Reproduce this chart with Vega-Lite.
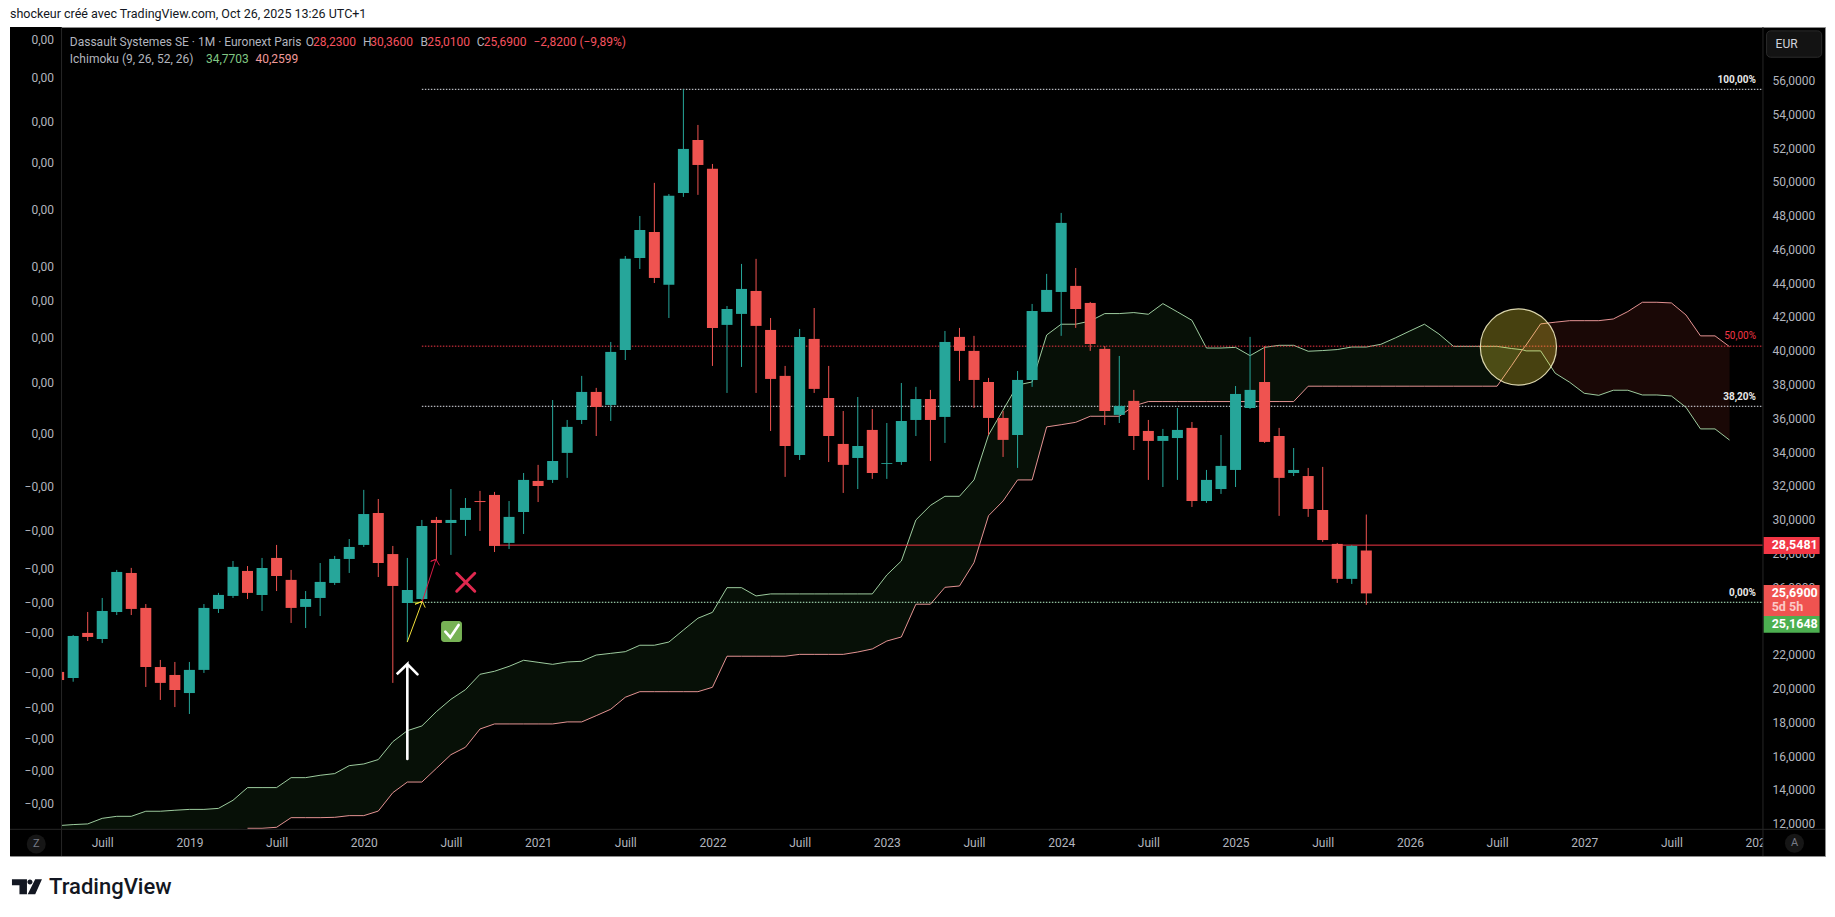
{
"$schema":"https://vega.github.io/schema/vega-lite/v6.json",
"description":"Dassault Systemes SE monthly candles with Ichimoku cloud; t is months since January 2019",
"background":"#ffffff",
"autosize":{"type":"none"},
"padding":{"left":10,"right":10,"top":27,"bottom":61},
"width":1815,
"height":829,
"title":{"text":"shockeur créé avec TradingView.com, Oct 26, 2025 13:26 UTC+1","anchor":"start","frame":"group","font":"Roboto","fontSize":12.5,"fontWeight":"normal","color":"#131722","offset":6},
"config":{"view":{"fill":"#000000","stroke":"#8c8c8c"},"font":"Roboto"},
"datasets":{
"candles":[
{"t":-9,"o":21.04,"h":21.04,"l":20.56,"c":20.56},
{"t":-8,"o":20.68,"h":23.23,"l":20.46,"c":23.17},
{"t":-7,"o":23.35,"h":24.59,"l":22.87,"c":23.11},
{"t":-6,"o":22.99,"h":25.42,"l":22.75,"c":24.65},
{"t":-5,"o":24.59,"h":27.08,"l":24.41,"c":26.96},
{"t":-4,"o":26.9,"h":27.2,"l":24.41,"c":24.77},
{"t":-3,"o":24.83,"h":25.06,"l":20.15,"c":21.33},
{"t":-2,"o":21.33,"h":21.75,"l":19.38,"c":20.39},
{"t":-1,"o":20.86,"h":21.63,"l":18.96,"c":19.97},
{"t":0,"o":19.79,"h":21.63,"l":18.55,"c":21.16},
{"t":1,"o":21.16,"h":25.06,"l":20.98,"c":24.83},
{"t":2,"o":24.77,"h":25.72,"l":24.53,"c":25.6},
{"t":3,"o":25.54,"h":27.61,"l":25.42,"c":27.26},
{"t":4,"o":27.02,"h":27.31,"l":25.36,"c":25.72},
{"t":5,"o":25.6,"h":27.79,"l":24.65,"c":27.2},
{"t":6,"o":27.79,"h":28.56,"l":25.83,"c":26.72},
{"t":7,"o":26.49,"h":27.08,"l":23.94,"c":24.83},
{"t":8,"o":24.89,"h":25.83,"l":23.64,"c":25.36},
{"t":9,"o":25.42,"h":27.49,"l":24.35,"c":26.37},
{"t":10,"o":26.31,"h":27.91,"l":26.19,"c":27.73},
{"t":11,"o":27.73,"h":28.91,"l":26.9,"c":28.44},
{"t":12,"o":28.56,"h":31.82,"l":28.44,"c":30.39},
{"t":13,"o":30.45,"h":31.28,"l":26.66,"c":27.49},
{"t":14,"o":28.02,"h":28.5,"l":20.39,"c":26.13},
{"t":15,"o":25.12,"h":27.79,"l":22.81,"c":25.89},
{"t":16,"o":25.36,"h":30.04,"l":25.3,"c":29.68},
{"t":17,"o":30.04,"h":30.22,"l":27.67,"c":29.86},
{"t":18,"o":29.86,"h":31.87,"l":27.97,"c":30.04},
{"t":19,"o":30.04,"h":31.34,"l":29.09,"c":30.75},
{"t":20,"o":31.16,"h":31.76,"l":29.39,"c":31.1},
{"t":21,"o":31.52,"h":31.7,"l":28.14,"c":28.5},
{"t":22,"o":28.68,"h":31.16,"l":28.32,"c":30.22},
{"t":23,"o":30.51,"h":32.82,"l":29.21,"c":32.41},
{"t":24,"o":32.35,"h":33.3,"l":31.1,"c":32.05},
{"t":25,"o":32.41,"h":37.14,"l":32.23,"c":33.53},
{"t":26,"o":34.01,"h":35.96,"l":32.53,"c":35.55},
{"t":27,"o":35.96,"h":38.57,"l":35.72,"c":37.62},
{"t":28,"o":37.62,"h":37.86,"l":35.01,"c":36.73},
{"t":29,"o":36.85,"h":40.58,"l":35.9,"c":39.99},
{"t":30,"o":40.11,"h":45.67,"l":39.51,"c":45.5},
{"t":31,"o":45.55,"h":48.04,"l":44.9,"c":47.21},
{"t":32,"o":47.09,"h":50,"l":44.07,"c":44.37},
{"t":33,"o":43.96,"h":49.34,"l":42,"c":49.23},
{"t":34,"o":49.4,"h":55.54,"l":49.17,"c":52.01},
{"t":35,"o":52.54,"h":53.43,"l":49.29,"c":51.06},
{"t":36,"o":50.83,"h":51.12,"l":39.16,"c":41.41},
{"t":37,"o":41.59,"h":42.71,"l":37.56,"c":42.53},
{"t":38,"o":42.24,"h":45.2,"l":39.1,"c":43.72},
{"t":39,"o":43.6,"h":45.5,"l":37.56,"c":41.53},
{"t":40,"o":41.29,"h":42,"l":35.31,"c":38.39},
{"t":41,"o":38.57,"h":39.16,"l":32.59,"c":34.42},
{"t":42,"o":33.89,"h":41.35,"l":33.59,"c":40.88},
{"t":43,"o":40.76,"h":42.59,"l":37.56,"c":37.8},
{"t":44,"o":37.26,"h":39.16,"l":33.47,"c":35.01},
{"t":45,"o":34.54,"h":36.49,"l":31.64,"c":33.3},
{"t":46,"o":33.71,"h":37.32,"l":31.87,"c":34.42},
{"t":47,"o":35.37,"h":36.61,"l":32.47,"c":32.82},
{"t":48,"o":33.36,"h":35.78,"l":32.47,"c":33.41},
{"t":49,"o":33.47,"h":38.15,"l":33.3,"c":35.9},
{"t":50,"o":35.96,"h":37.92,"l":35.01,"c":37.2},
{"t":51,"o":37.2,"h":37.74,"l":33.53,"c":35.96},
{"t":52,"o":36.14,"h":41.23,"l":34.6,"c":40.58},
{"t":53,"o":40.88,"h":41.41,"l":38.27,"c":40.05},
{"t":54,"o":40.05,"h":40.94,"l":36.67,"c":38.33},
{"t":55,"o":38.21,"h":38.45,"l":35.07,"c":36.08},
{"t":56,"o":36.08,"h":36.49,"l":33.77,"c":34.78},
{"t":57,"o":35.07,"h":38.86,"l":33.12,"c":38.33},
{"t":58,"o":38.33,"h":42.83,"l":37.92,"c":42.42},
{"t":59,"o":42.36,"h":44.61,"l":42.36,"c":43.66},
{"t":60,"o":43.54,"h":48.22,"l":40.94,"c":47.63},
{"t":61,"o":43.9,"h":44.96,"l":41.41,"c":42.53},
{"t":62,"o":42.89,"h":42.95,"l":40.05,"c":40.46},
{"t":63,"o":40.17,"h":40.34,"l":35.66,"c":36.49},
{"t":64,"o":36.26,"h":39.75,"l":35.78,"c":36.79},
{"t":65,"o":37.09,"h":37.74,"l":34.18,"c":35.01},
{"t":66,"o":35.31,"h":35.96,"l":32.41,"c":34.72},
{"t":67,"o":34.72,"h":35.43,"l":31.99,"c":35.01},
{"t":68,"o":34.89,"h":36.67,"l":32.41,"c":35.37},
{"t":69,"o":35.49,"h":35.84,"l":30.81,"c":31.16},
{"t":70,"o":31.16,"h":33,"l":31.05,"c":32.41},
{"t":71,"o":31.87,"h":35.07,"l":31.58,"c":33.24},
{"t":72,"o":33,"h":37.97,"l":31.99,"c":37.5},
{"t":73,"o":36.67,"h":40.88,"l":36.61,"c":37.74},
{"t":74,"o":38.21,"h":40.34,"l":34.6,"c":34.66},
{"t":75,"o":35.01,"h":35.49,"l":30.28,"c":32.53},
{"t":76,"o":32.82,"h":34.3,"l":32.64,"c":33},
{"t":77,"o":32.64,"h":33.12,"l":30.22,"c":30.69},
{"t":78,"o":30.63,"h":33.18,"l":28.74,"c":28.85},
{"t":79,"o":28.62,"h":28.68,"l":26.31,"c":26.55},
{"t":80,"o":26.55,"h":28.54,"l":26.25,"c":28.5},
{"t":81,"o":28.23,"h":30.36,"l":25.01,"c":25.69}
],
"cloud":[
{"t":-9,"a":11.94,"b":11.72},{"t":-8,"a":12,"b":11.72},{"t":-7,"a":12.04,"b":11.72},{"t":-6,"a":12.37,"b":11.72},{"t":-5,"a":12.49,"b":11.72},{"t":-4,"a":12.49,"b":11.72},{"t":-3,"a":12.79,"b":11.72},{"t":-2,"a":12.79,"b":11.72},{"t":-1,"a":12.85,"b":11.72},{"t":0,"a":12.9,"b":11.72},{"t":1,"a":12.9,"b":11.72},{"t":2,"a":12.96,"b":11.72},{"t":3,"a":13.44,"b":11.72},
{"t":4,"a":14.19,"b":11.78},{"t":5,"a":14.19,"b":11.78},{"t":6,"a":14.19,"b":11.84},{"t":7,"a":14.78,"b":12.41},{"t":8,"a":14.78,"b":12.41},{"t":9,"a":14.92,"b":12.41},{"t":10,"a":15.02,"b":12.43},{"t":11,"a":15.49,"b":12.53},{"t":12,"a":15.59,"b":12.53},{"t":13,"a":15.85,"b":12.8},{"t":14,"a":16.91,"b":13.89},{"t":15,"a":17.56,"b":14.52},{"t":16,"a":17.84,"b":14.52},{"t":17,"a":18.69,"b":15.33},{"t":18,"a":19.42,"b":16.14},{"t":19,"a":19.99,"b":16.58},{"t":20,"a":20.9,"b":17.66},{"t":21,"a":21.08,"b":17.96},{"t":22,"a":21.37,"b":17.96},{"t":23,"a":21.73,"b":17.96},{"t":24,"a":21.61,"b":17.96},{"t":25,"a":21.49,"b":17.96},{"t":26,"a":21.63,"b":18.08},{"t":27,"a":21.67,"b":18.08},{"t":28,"a":22.04,"b":18.45},{"t":29,"a":22.14,"b":18.83},{"t":30,"a":22.24,"b":19.54},
{"t":31,"a":22.62,"b":19.87},{"t":32,"a":22.62,"b":19.87},{"t":33,"a":22.81,"b":19.87},{"t":34,"a":23.52,"b":19.87},{"t":35,"a":24.22,"b":19.87},{"t":36,"a":24.57,"b":20.13},{"t":37,"a":26.03,"b":21.97},{"t":38,"a":26.03,"b":21.97},{"t":39,"a":25.54,"b":21.97},{"t":40,"a":25.66,"b":21.97},{"t":41,"a":25.66,"b":21.97},{"t":42,"a":25.66,"b":22.08},{"t":43,"a":25.66,"b":22.08},{"t":44,"a":25.66,"b":22.08},{"t":45,"a":25.66,"b":22.08},{"t":46,"a":25.66,"b":22.22},{"t":47,"a":25.66,"b":22.4},{"t":48,"a":26.78,"b":22.87},{"t":49,"a":27.61,"b":23.11},{"t":50,"a":30.04,"b":25.05},{"t":51,"a":30.9,"b":25.05},{"t":52,"a":31.44,"b":26.05},{"t":53,"a":31.44,"b":26.13},{"t":54,"a":32.41,"b":27.51},{"t":55,"a":35.07,"b":30.29},{"t":56,"a":36.55,"b":31.16},{"t":57,"a":38.03,"b":32.41},{"t":58,"a":38.21,"b":32.41},{"t":59,"a":40.99,"b":35.55},{"t":60,"a":41.63,"b":35.68},{"t":61,"a":41.63,"b":35.82},{"t":62,"a":41.82,"b":36.18},{"t":63,"a":42.26,"b":36.18},{"t":64,"a":42.26,"b":36.18},{"t":65,"a":42.32,"b":36.79},{"t":66,"a":42.22,"b":37.05},{"t":67,"a":42.85,"b":37.05},{"t":68,"a":42.36,"b":37.05},{"t":69,"a":41.86,"b":37.05},{"t":70,"a":40.22,"b":37.05},{"t":71,"a":40.22,"b":37.05},{"t":72,"a":40.26,"b":37.05},{"t":73,"a":39.77,"b":37.05},{"t":74,"a":40.26,"b":37.05},{"t":75,"a":40.38,"b":37.05},{"t":76,"a":40.38,"b":37.05},{"t":77,"a":40.03,"b":37.96},{"t":78,"a":40.07,"b":37.96},{"t":79,"a":40.13,"b":37.96},{"t":80,"a":40.28,"b":37.96},{"t":81,"a":40.28,"b":37.96},{"t":82,"a":40.44,"b":37.96},{"t":83,"a":40.82,"b":37.96},{"t":84,"a":41.23,"b":37.96},{"t":85,"a":41.63,"b":37.96},{"t":86,"a":41.05,"b":37.96},{"t":87,"a":40.32,"b":37.96},{"t":88,"a":40.32,"b":37.96},{"t":89,"a":40.32,"b":37.96},{"t":90,"a":40.32,"b":37.96},{"t":91,"a":40.19,"b":39.18},{"t":91.74,"a":40.12,"b":40.12},{"t":92,"a":40.05,"b":40.4},{"t":93,"a":40.05,"b":41.65},{"t":94,"a":38.73,"b":41.75},{"t":95,"a":38.19,"b":41.84},{"t":96,"a":37.54,"b":41.84},{"t":97,"a":37.42,"b":41.84},{"t":98,"a":37.72,"b":41.94},{"t":99,"a":37.72,"b":42.38},{"t":100,"a":37.44,"b":42.93},{"t":101,"a":37.44,"b":42.93},{"t":102,"a":37.38,"b":42.89},{"t":103,"a":36.71,"b":42.18},{"t":104,"a":35.43,"b":40.94},{"t":105,"a":35.43,"b":40.94},{"t":106,"a":34.77,"b":40.3}
],
"levels":[
{"level":"100,00%","p":55.54,"t":16,"t2":108.3,"lt":107.82,"lp":56.11},
{"level":"50,00%","p":40.33,"t":16,"t2":108.3,"lt":107.82,"lp":40.95},
{"level":"38,20%","p":36.77,"t":16,"t2":108.3,"lt":107.82,"lp":37.34},
{"level":"0,00%","p":25.1648,"t":16,"t2":108.3,"lt":107.82,"lp":25.73}
],
"strokes":[
{"part":"white","seq":0,"t":15,"p":15.88},{"part":"white","seq":1,"t":15,"p":21.51},{"part":"white","seq":2,"t":14.27,"p":20.9},{"part":"white","seq":3,"t":15,"p":21.51},{"part":"white","seq":4,"t":15.7,"p":20.9},
{"part":"yellow","seq":0,"t":15,"p":22.83},{"part":"yellow","seq":1,"t":16.03,"p":25.22},{"part":"yellow","seq":2,"t":15.53,"p":25.05},{"part":"yellow","seq":3,"t":16.03,"p":25.22},{"part":"yellow","seq":4,"t":16.22,"p":24.87},
{"part":"red","seq":0,"t":16.03,"p":25.22},{"part":"red","seq":1,"t":16.97,"p":27.71},{"part":"red","seq":2,"t":16.61,"p":27.59},{"part":"red","seq":3,"t":16.97,"p":27.71},{"part":"red","seq":4,"t":17.2,"p":27.37},
{"part":"x1","seq":0,"t":18.4,"p":26.88},{"part":"x1","seq":1,"t":19.64,"p":25.82},
{"part":"x2","seq":0,"t":18.4,"p":25.82},{"part":"x2","seq":1,"t":19.64,"p":26.88},
{"part":"check","seq":0,"t":17.61,"p":23.42},{"part":"check","seq":1,"t":17.96,"p":23.09},{"part":"check","seq":2,"t":18.53,"p":23.82}
],
"header":[
{"t":-8.23,"p":58.36,"text":"Dassault Systemes SE · 1M · Euronext Paris","tone":"gray"},
{"t":8,"p":58.36,"text":"O","tone":"gray"},{"t":8.51,"p":58.36,"text":"28,2300","tone":"red"},
{"t":11.94,"p":58.36,"text":"H","tone":"gray"},{"t":12.44,"p":58.36,"text":"30,3600","tone":"red"},
{"t":15.9,"p":58.36,"text":"B","tone":"gray"},{"t":16.37,"p":58.36,"text":"25,0100","tone":"red"},
{"t":19.77,"p":58.36,"text":"C","tone":"gray"},{"t":20.26,"p":58.36,"text":"25,6900","tone":"red"},
{"t":23.68,"p":58.36,"text":"−2,8200 (−9,89%)","tone":"red"},
{"t":-8.23,"p":57.34,"text":"Ichimoku (9, 26, 52, 26)","tone":"gray"},
{"t":1.14,"p":57.34,"text":"34,7703","tone":"green"},
{"t":4.55,"p":57.34,"text":"40,2599","tone":"pink"},
{"t":109.17,"p":58.21,"text":"EUR","tone":"light"}
],
"tags":[
{"t":108.35,"t2":112.2,"p":28.03,"p2":29.03,"tag":"line"},
{"t":108.35,"t2":112.2,"p":24.35,"p2":26.19,"tag":"close"},
{"t":108.35,"t2":112.2,"p":23.36,"p2":24.35,"tag":"low"}
],
"tagText":[
{"t":108.9,"p":28.58,"text":"28,5481","tone":"white"},
{"t":108.9,"p":25.73,"text":"25,6900","tone":"white"},
{"t":108.9,"p":24.9,"text":"5d 5h","tone":"soft"},
{"t":108.9,"p":23.88,"text":"25,1648","tone":"white"}
],
"panels":[
{"t":-12.347,"t2":-8.8,"p":10.14,"p2":59.23},
{"t":108.3,"t2":112.57,"p":10.14,"p2":11.72}
]
},
"encoding":{
"x":{"field":"t","type":"quantitative","title":null,"scale":{"domain":[-12.347,112.57],"nice":false,"zero":false,"padding":0},
"axis":{"orient":"bottom","values":[-6,0,6,12,18,24,30,36,42,48,54,60,66,72,78,84,90,96,102,108],"labelExpr":"datum.value%12===0?''+(2019+datum.value/12):'Juill'","domain":false,"ticks":false,"grid":false,"labelPadding":-13.3,"labelBaseline":"middle","labelFontSize":12,"labelColor":"#b2b5be","labelOverlap":false,"labelFlush":false,"labelBound":false,"title":null}}
},
"layer":[
{"data":{"name":"cloud"},"transform":[{"filter":"datum.t<=91.74"}],"mark":{"type":"area","color":"#071007"},
"encoding":{"y":{"field":"a","type":"quantitative","scale":{"domain":[10.14,59.23],"nice":false,"zero":false},
"axis":{"orient":"left","title":null,"zindex":1,"values":[58.48,56.23,53.63,51.2,48.41,45.04,43.03,40.82,38.18,35.13,32.01,29.4,27.15,25.14,23.36,20.98,18.92,17.09,15.19,13.24],"labelExpr":"datum.value>33?'0,00':'−0,00'","domain":false,"ticks":false,"grid":false,"labelPadding":-43.5,"labelAlign":"right","labelBaseline":"middle","labelFontSize":12,"labelColor":"#b2b5be","labelOverlap":false,"labelFlush":false,"labelBound":false}},"y2":{"field":"b"}}},
{"data":{"name":"cloud"},"transform":[{"filter":"datum.t>=91.74"}],"mark":{"type":"area","color":"#1a0806"},
"encoding":{"y":{"field":"a","type":"quantitative",
"axis":{"orient":"right","title":null,"values":[12,14,16,18,20,22,24,26,28,30,32,34,36,38,40,42,44,46,48,50,52,54,56],"labelExpr":"replace(format(datum.value,'.4f'),'.',',')","domain":false,"ticks":false,"grid":false,"labelPadding":-53,"labelAlign":"left","labelBaseline":"middle","labelOffset":-1,"labelFontSize":12,"labelColor":"#b2b5be","labelOverlap":false,"labelFlush":false,"labelBound":false}},"y2":{"field":"b"}}},
{"data":{"name":"cloud"},"mark":{"type":"line","color":"#a5d6a7","strokeWidth":1,"opacity":0.95},"encoding":{"y":{"field":"a","type":"quantitative","axis":null}}},
{"data":{"name":"cloud"},"transform":[{"filter":"datum.t>=4"}],"mark":{"type":"line","color":"#ef9a9a","strokeWidth":1,"opacity":0.95},"encoding":{"y":{"field":"b","type":"quantitative","axis":null}}},
{"data":{"name":"levels"},"mark":{"type":"rule","strokeWidth":1,"strokeDash":[1.5,1.5]},
"encoding":{"x2":{"field":"t2"},"y":{"field":"p","type":"quantitative","axis":null},
"color":{"condition":[{"test":"datum.level==='50,00%'","value":"#f23645"},{"test":"datum.level==='0,00%'","value":"#b9f6ca"}],"value":"#e0e3eb"}}},
{"data":{"name":"levels"},"transform":[{"filter":"datum.level!=='50,00%'"}],"mark":{"type":"text","align":"right","baseline":"middle","fontSize":10,"fontWeight":"bold","color":"#e8e8e8"},
"encoding":{"x":{"field":"lt","type":"quantitative"},"y":{"field":"lp","type":"quantitative","axis":null},"text":{"field":"level"}}},
{"data":{"name":"levels"},"transform":[{"filter":"datum.level==='50,00%'"}],"mark":{"type":"text","align":"right","baseline":"middle","fontSize":10,"color":"#f23645"},
"encoding":{"x":{"field":"lt","type":"quantitative"},"y":{"field":"lp","type":"quantitative","axis":null},"text":{"field":"level"}}},
{"data":{"values":[{"t":21,"t2":108.3,"p":28.5481,"line":"resistance"},{"t":15,"t2":16,"p":25.1648,"line":"start"}]},"mark":{"type":"rule","strokeWidth":1},
"encoding":{"x2":{"field":"t2"},"y":{"field":"p","type":"quantitative","axis":null},
"color":{"condition":[{"test":"datum.line==='start'","value":"#8bc34a"}],"value":"#f23645"}}},
{"data":{"name":"candles"},"mark":{"type":"rule","strokeWidth":1},
"encoding":{"y":{"field":"l","type":"quantitative","axis":null},"y2":{"field":"h"},
"color":{"condition":{"test":"datum.c>=datum.o","value":"#26a69a"},"value":"#ef5350"}}},
{"data":{"name":"candles"},"mark":{"type":"bar","size":11,"orient":"vertical"},
"encoding":{"y":{"field":"o","type":"quantitative","axis":null},"y2":{"field":"c"},
"color":{"condition":{"test":"datum.c>=datum.o","value":"#26a69a"},"value":"#ef5350"}}},
{"data":{"values":[{"t":17.32,"t2":18.76,"p":22.81,"p2":24.06}]},"mark":{"type":"rect","color":"#77b255","cornerRadius":3},
"encoding":{"x2":{"field":"t2"},"y":{"field":"p","type":"quantitative","axis":null},"y2":{"field":"p2"}}},
{"data":{"name":"strokes"},"mark":{"type":"line","strokeCap":"round"},
"encoding":{"y":{"field":"p","type":"quantitative","axis":null},"order":{"field":"seq"},"detail":{"field":"part"},
"color":{"condition":[{"test":"datum.part==='white'||datum.part==='check'","value":"#ffffff"},{"test":"datum.part==='yellow'","value":"#f2df3a"},{"test":"datum.part==='red'","value":"#d81b45"}],"value":"#e0284f"},
"strokeWidth":{"condition":[{"test":"datum.part==='white'||datum.part==='check'","value":2.6},{"test":"datum.part==='yellow'||datum.part==='red'","value":1}],"value":3}}},
{"data":{"values":[{"t":91.47,"p":40.28}]},"mark":{"type":"point","shape":"circle","size":5800,"fill":"#ffeb3b","fillOpacity":0.28,"stroke":"#efeabf","strokeOpacity":0.9,"strokeWidth":1.2},
"encoding":{"y":{"field":"p","type":"quantitative","axis":null}}},
{"data":{"name":"panels"},"mark":{"type":"rect","color":"#000000"},
"encoding":{"x2":{"field":"t2"},"y":{"field":"p","type":"quantitative","axis":null},"y2":{"field":"p2"}}},
{"data":{"values":[{"t":-8.8,"t2":-8.8,"p":10.14,"p2":59.23},{"t":108.3,"t2":108.3,"p":10.14,"p2":59.23},{"t":-12.347,"t2":112.57,"p":11.72,"p2":11.72}]},"mark":{"type":"rule","color":"#262626","strokeWidth":1},
"encoding":{"x2":{"field":"t2"},"y":{"field":"p","type":"quantitative","axis":null},"y2":{"field":"p2"}}},
{"data":{"values":[{"t":108.55,"t2":112.34,"p":57.44,"p2":59}]},"mark":{"type":"rect","color":"#131313","stroke":"#2b2b2b","strokeWidth":1,"cornerRadius":4},
"encoding":{"x2":{"field":"t2"},"y":{"field":"p","type":"quantitative","axis":null},"y2":{"field":"p2"}}},
{"data":{"name":"tags"},"mark":{"type":"rect"},
"encoding":{"x2":{"field":"t2"},"y":{"field":"p","type":"quantitative","axis":null},"y2":{"field":"p2"},
"color":{"condition":[{"test":"datum.tag==='line'","value":"#f23645"},{"test":"datum.tag==='close'","value":"#ef5350"}],"value":"#4caf50"}}},
{"data":{"name":"tagText"},"mark":{"type":"text","align":"left","baseline":"middle","fontSize":12.5,"fontWeight":"bold"},
"encoding":{"y":{"field":"p","type":"quantitative","axis":null},"text":{"field":"text"},
"color":{"condition":{"test":"datum.tone==='soft'","value":"#fbc9c7"},"value":"#ffffff"}}},
{"data":{"name":"header"},"mark":{"type":"text","align":"left","baseline":"middle","fontSize":12},
"encoding":{"y":{"field":"p","type":"quantitative","axis":null},"text":{"field":"text"},
"color":{"condition":[{"test":"datum.tone==='red'","value":"#f7525f"},{"test":"datum.tone==='green'","value":"#81c784"},{"test":"datum.tone==='pink'","value":"#ef9a9a"},{"test":"datum.tone==='light'","value":"#d1d4dc"}],"value":"#b2b5be"}}},
{"data":{"values":[{"t":-10.54,"p":10.85},{"t":110.47,"p":10.89}]},"mark":{"type":"point","shape":"circle","size":361,"filled":true,"color":"#161616","opacity":1},
"encoding":{"y":{"field":"p","type":"quantitative","axis":null}}},
{"data":{"values":[{"t":-10.54,"p":10.85,"text":"Z"},{"t":110.47,"p":10.89,"text":"A"}]},"mark":{"type":"text","align":"center","baseline":"middle","fontSize":11,"color":"#787b86"},
"encoding":{"y":{"field":"p","type":"quantitative","axis":null},"text":{"field":"text"}}},
{"data":{"values":[{"t":-11.18,"p":8.32}]},"mark":{"type":"point","filled":true,"opacity":1,"color":"#131722","size":900,"shape":"M-1 -0.5H0V0.5H-0.5V-0.1H-1ZM0.55 -0.5H1L0.55 0.5H0.05ZM0.37 -0.32A0.17 0.17 0 1 1 0.03 -0.32A0.17 0.17 0 1 1 0.37 -0.32Z"},
"encoding":{"y":{"field":"p","type":"quantitative","axis":null}}},
{"data":{"values":[{"t":-9.66,"p":8.32,"text":"TradingView"}]},"mark":{"type":"text","align":"left","baseline":"middle","fontSize":22,"fontWeight":500,"color":"#131722"},
"encoding":{"y":{"field":"p","type":"quantitative","axis":null},"text":{"field":"text"}}}
],
"resolve":{"axis":{"y":"independent"}}
}
